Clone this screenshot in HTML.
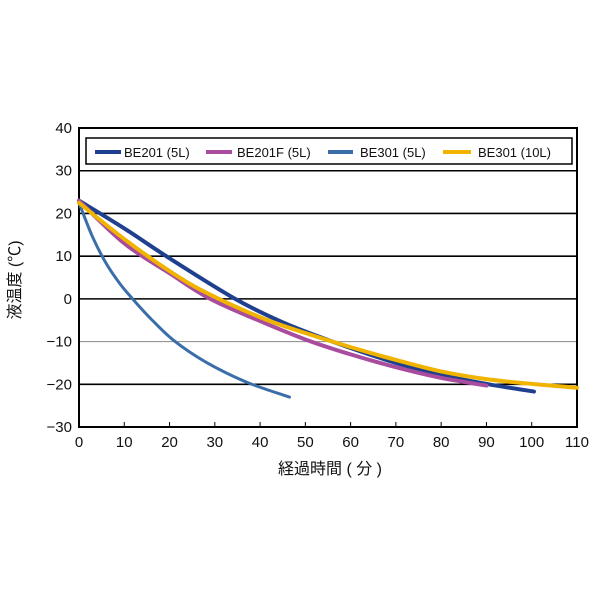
<!DOCTYPE html><html><head><meta charset="utf-8"><style>
body{margin:0;background:#fff;width:600px;height:600px;overflow:hidden}
text{font-family:"Liberation Sans","Noto Sans CJK JP",sans-serif}
</style></head><body>
<svg id="s" width="600" height="600" viewBox="0 0 600 600">
<g id="grid"></g>
<rect x="79" y="128" width="498" height="299" fill="none" stroke="#000" stroke-width="2"/>
<g id="curves" fill="none" stroke-linecap="round"></g>
<rect x="86" y="138" width="486" height="26" fill="#fff" stroke="#000" stroke-width="1.5"/>
<g font-size="13" fill="#111">
<line x1="95" y1="152" x2="121" y2="152" stroke="#1f3f8f" stroke-width="4"/><text x="124" y="157">BE201 (5L)</text>
<line x1="206" y1="152" x2="232" y2="152" stroke="#a94c9e" stroke-width="4"/><text x="237" y="157">BE201F (5L)</text>
<line x1="328" y1="152" x2="353" y2="152" stroke="#3b6ea8" stroke-width="4"/><text x="360" y="157">BE301 (5L)</text>
<line x1="443" y1="152" x2="471" y2="152" stroke="#f0b400" stroke-width="4"/><text x="478" y="157">BE301 (10L)</text>
</g>
<g id="lab" font-size="15" fill="#111"></g>
<text x="330" y="474" font-size="16" text-anchor="middle" fill="#111">経過時間 ( 分 )</text>
<text transform="translate(20,280) rotate(-90)" font-size="16" text-anchor="middle" fill="#111">液温度 (℃)</text>
</svg>
<script>
const X=v=>79+v*4.527, Y=v=>427-(v+30)*4.271, ns="http://www.w3.org/2000/svg";
const g=document.getElementById('grid'),lab=document.getElementById('lab'),c=document.getElementById('curves');
function el(p,t,a,txt){const e=document.createElementNS(ns,t);for(const k in a)e.setAttribute(k,a[k]);if(txt)e.textContent=txt;p.appendChild(e);return e}
for(let v=-30;v<=40;v+=10){if(v>-30&&v<40)el(g,'line',{x1:79,x2:577,y1:Y(v),y2:Y(v),stroke:v==-10?'#888':'#000','stroke-width':v==-10?1:1.6});
el(lab,'text',{x:72,y:Y(v)+5,'text-anchor':'end'},v<0?'−'+(-v):''+v)}
for(let v=0;v<=110;v+=10){el(lab,'text',{x:X(v),y:447,'text-anchor':'middle'},''+v);if(v>0&&v<110)el(g,'line',{x1:X(v),x2:X(v),y1:427,y2:422,stroke:'#000'})}
function path(pts){const P=pts.map(p=>[X(p[0]),Y(p[1])]);let d='M'+P[0];for(let i=0;i<P.length-1;i++){const p0=P[i-1]||P[i],p1=P[i],p2=P[i+1],p3=P[i+2]||p2;
d+=' C'+(p1[0]+(p2[0]-p0[0])/6)+','+(p1[1]+(p2[1]-p0[1])/6)+' '+(p2[0]-(p3[0]-p1[0])/6)+','+(p2[1]-(p3[1]-p1[1])/6)+' '+p2}return d}
const S=[
['#3b6ea8',[[0,22.5],[3,14.5],[6,8.3],[9,3.6],[12,-0.2],[16,-4.8],[21,-9.8],[28,-14.8],[37,-19.5],[46.5,-23]]],
['#1f3f8f',[[0,23],[10,16.5],[20,9.5],[34.5,0],[45,-5.5],[56,-10],[70,-15],[80,-17.8],[90.5,-20],[100.5,-21.7]]],
['#a94c9e',[[0,23],[10,13],[20,6],[29,0],[40,-5.2],[50,-9.5],[60,-13],[70,-16],[80,-18.5],[90,-20.3]]],
['#f0b400',[[0,22.5],[10,14],[20,6.5],[28,1.5],[40,-4.3],[50,-8],[60,-11.3],[70,-14.3],[80,-17],[90,-18.8],[101,-20],[110,-20.8]]]];
for(const [col,p] of S)el(c,'path',{d:path(p),stroke:col,'stroke-width':col=='#3b6ea8'?3:4});
</script>
</body></html>
